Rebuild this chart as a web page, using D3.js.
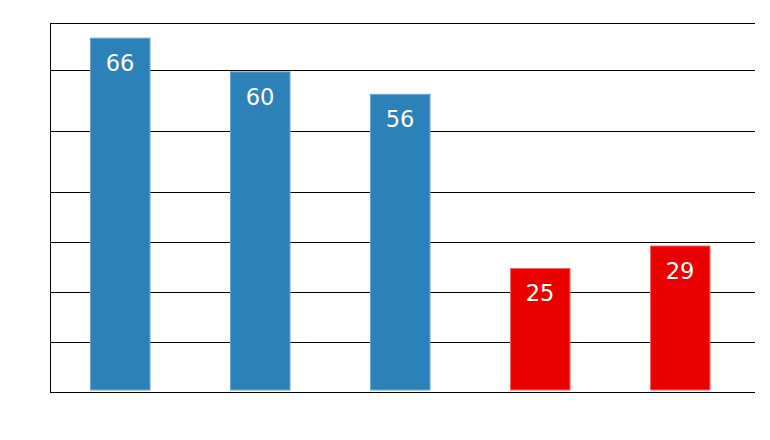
<!DOCTYPE html>
<html>
<head>
<meta charset="utf-8">
<script src="https://cdn.jsdelivr.net/npm/d3@7"></script>
<style>
  html, body { margin: 0; padding: 0; background: #fff; }
  svg { display: block; }
</style>
</head>
<body>
<svg id="chart" width="770" height="440"></svg>
<script>
// ---- data ----
const categories = ["A", "B", "C", "D", "E"];
const values = [66, 60, 56, 25, 29];
const labels = ["66", "60", "56", "25", "29"];
const groups = ["blue", "blue", "blue", "red", "red"];
const gridValues = [11.9, 20.8, 29.7, 38.6, 49.5, 60.4];
const yDomain = [3, 68.7];

// ---- layout ----
const W = 770, H = 440;
const mLeft = 50, mRight = 755, mTop = 23, mBottom = 392;

const svg = d3.select("#chart");

const x = d3.scaleBand()
  .domain(categories)
  .range([mLeft, 750])
  .paddingInner(80 / 140)
  .paddingOuter(40 / 140);

const y = d3.scaleLinear()
  .domain(yDomain)
  .range([mBottom, mTop]);

const fill = d3.scaleOrdinal().domain(["blue", "red"]).range(["#2c81b8", "#ea0000"]);
const edge = d3.scaleOrdinal().domain(["blue", "red"]).range(["#6aa6d0", "#f06a6a"]);

const crisp = v => Math.round(v) + 0.5;

// gridlines
svg.append("g")
  .selectAll("line")
  .data(gridValues)
  .join("line")
  .attr("x1", mLeft).attr("x2", mRight)
  .attr("y1", d => crisp(y(d))).attr("y2", d => crisp(y(d)))
  .attr("stroke", "#000").attr("stroke-width", 1);

// top border
svg.append("line")
  .attr("x1", mLeft).attr("x2", mRight)
  .attr("y1", crisp(y(yDomain[1]))).attr("y2", crisp(y(yDomain[1])))
  .attr("stroke", "#000").attr("stroke-width", 1);

const data = categories.map((c, i) => ({ c, v: values[i], label: labels[i], g: groups[i] }));

// bars
svg.append("g")
  .selectAll("rect")
  .data(data)
  .join("rect")
  .attr("x", d => x(d.c) + 0.5)
  .attr("width", x.bandwidth() - 0.5)
  .attr("y", d => y(d.v))
  .attr("height", d => (y(yDomain[0]) - 2) - y(d.v))
  .attr("fill", d => fill(d.g))
  .attr("stroke", d => edge(d.g))
  .attr("stroke-width", 1);

// value labels
svg.append("g")
  .selectAll("text")
  .data(data)
  .join("text")
  .attr("x", d => x(d.c) + x.bandwidth() / 2)
  .attr("y", d => y(d.v) + 33)
  .attr("text-anchor", "middle")
  .attr("fill", "#fff")
  .style("font-family", "'DejaVu Sans', Verdana, sans-serif")
  .style("font-size", "22.5px")
  .text(d => d.label);

// axes lines (left and bottom)
svg.append("line")
  .attr("x1", crisp(mLeft)).attr("x2", crisp(mLeft))
  .attr("y1", crisp(mTop)).attr("y2", crisp(mBottom) + 0.5)
  .attr("stroke", "#000").attr("stroke-width", 1);
svg.append("line")
  .attr("x1", mLeft).attr("x2", mRight)
  .attr("y1", crisp(y(yDomain[0]))).attr("y2", crisp(y(yDomain[0])))
  .attr("stroke", "#000").attr("stroke-width", 1);
</script>
</body>
</html>
